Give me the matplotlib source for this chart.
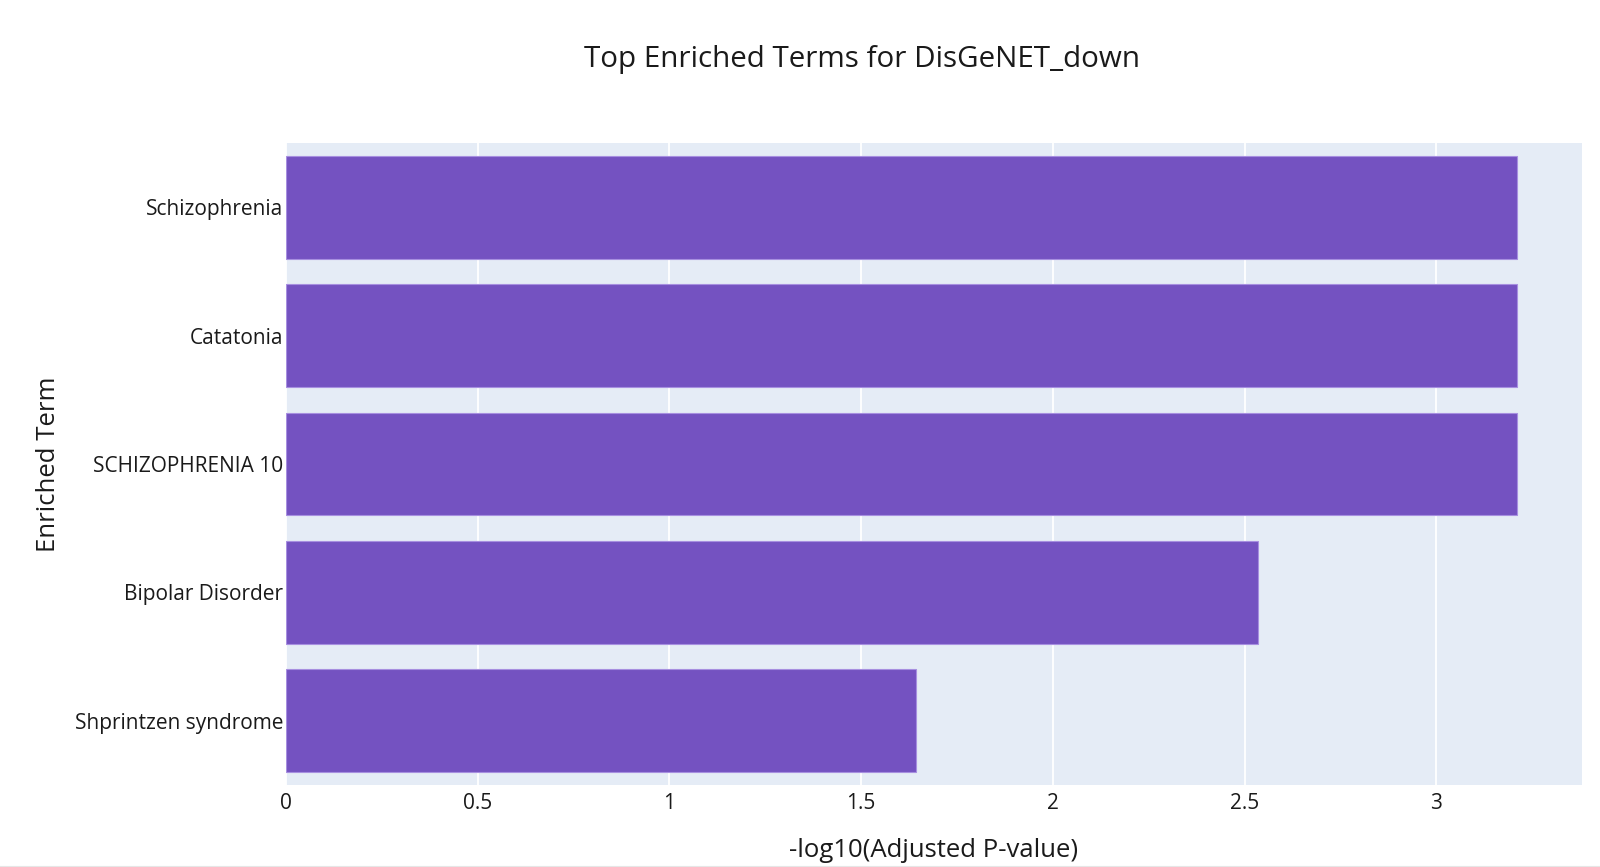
import matplotlib.pyplot as plt
from matplotlib.ticker import FuncFormatter, MultipleLocator

plt.rcParams['font.family'] = ['Open Sans', 'DejaVu Sans']

terms = ["Schizophrenia", "Catatonia", "SCHIZOPHRENIA 10", "Bipolar Disorder", "Shprintzen syndrome"]
scores = [3.210, 3.210, 3.210, 2.534, 1.642]

W, H = 1600, 867
fig = plt.figure(figsize=(W / 100, H / 100), dpi=100)
# plot area in pixels: left 286, right 1582, top 143, bottom 785
ax = fig.add_axes([286 / W, 1 - 785 / H, (1582 - 286) / W, (785 - 143) / H])
ax.set_facecolor("#E5ECF6")

ypos = list(range(len(terms)))[::-1]
ax.barh(ypos, scores, height=0.8, color="#7452C1", edgecolor="#A78FE0", linewidth=0.8, zorder=3)

ax.set_xlim(0, 3.38)
ax.set_ylim(-0.5, len(terms) - 0.5)
ax.set_yticks(ypos)
ax.set_yticklabels(terms)
ax.xaxis.set_major_locator(MultipleLocator(0.5))
ax.xaxis.set_major_formatter(FuncFormatter(lambda v, p: f"{v:g}"))
ax.grid(axis="x", color="white", linewidth=1.3, zorder=0)
ax.set_axisbelow(True)
for s in ax.spines.values():
    s.set_visible(False)
ax.tick_params(axis="both", length=0, labelsize=15, colors="#1a1a1a")
ax.tick_params(axis="x", pad=6)
ax.tick_params(axis="y", pad=2)

ax.set_xlabel("-log10(Adjusted P-value)", fontsize=18.5, color="#1a1a1a", labelpad=17)
ax.set_ylabel("Enriched Term", fontsize=18.5, color="#1a1a1a", labelpad=10)

fig.text(862 / W, 1 - 60 / H, "Top Enriched Terms for DisGeNET_down", fontsize=21.3,
         ha="center", va="center", color="#1a1a1a")

# thin border line at the bottom of the frame
fig.add_artist(plt.Line2D([0, 1], [0.5 / H, 0.5 / H], color="#e6e6e6", linewidth=1.5))

fig.savefig("out.png", dpi=100)
